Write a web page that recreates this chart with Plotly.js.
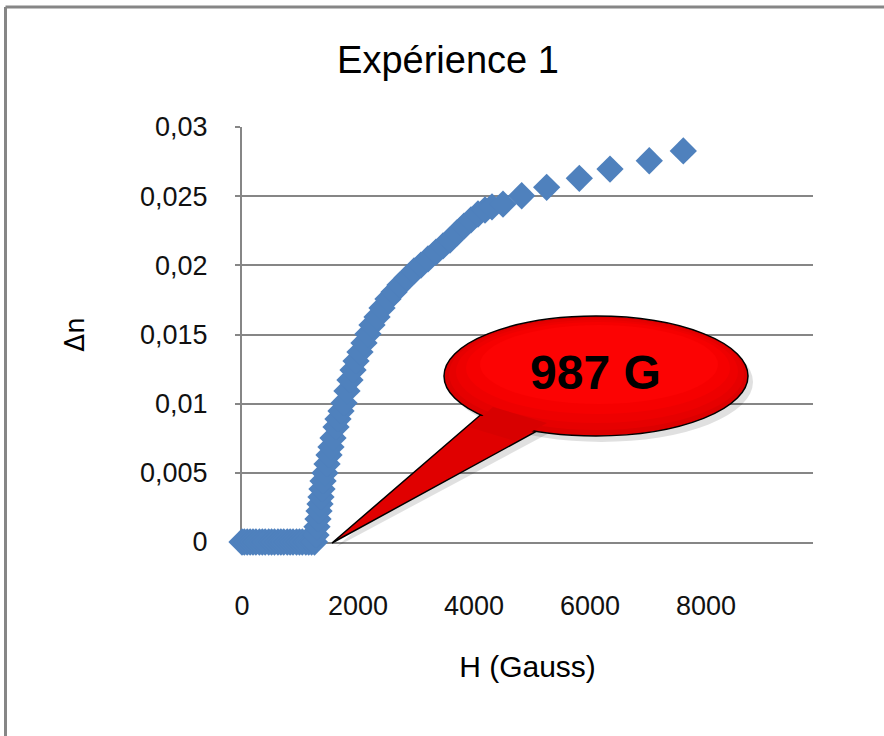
<!DOCTYPE html>
<html><head><meta charset="utf-8">
<script src="https://cdn.plot.ly/plotly-3.0.1.min.js"></script>
<style>html,body{margin:0;padding:0;background:#fff;} #chart{width:884px;height:736px;}</style>
</head><body><div id="chart"></div>
<script>
// Champ magnétique H (Gauss) and birefringence Δn
const fieldH = [0, 40, 90, 140, 190, 240, 300, 350, 400, 460, 510, 560, 620, 670, 720, 780, 830, 880, 940, 990, 1040, 1100, 1150, 1200, 1250,
  1276, 1293, 1310, 1328, 1345, 1362, 1379, 1397, 1431, 1466, 1500, 1534, 1569, 1621, 1655, 1707, 1759, 1810, 1862, 1914, 1966,
  2034, 2103, 2172, 2241, 2328, 2414, 2517, 2621, 2724, 2845, 2966, 3086, 3207, 3345, 3466, 3586, 3707, 3828, 3948, 4069, 4190, 4310,
  4500, 4822, 5253, 5816, 6345, 7022, 7609];
const deltaN = [0, 0, 0, 0, 0, 0, 0, 0, 0, 0, 0, 0, 0, 0, 0, 0, 0, 0, 0, 0, 0, 0, 0, 0, 0,
  0.0005, 0.0011, 0.00166, 0.00224, 0.00275, 0.00325, 0.00383, 0.00441, 0.00499, 0.00564, 0.00629, 0.00687, 0.00752, 0.00831, 0.00889, 0.00947, 0.01005, 0.01092, 0.01171, 0.01243, 0.01308,
  0.01373, 0.01439, 0.01504, 0.01569, 0.01627, 0.01692, 0.01757, 0.01807, 0.01858, 0.01908, 0.01959, 0.02002, 0.02046, 0.02096, 0.0214, 0.02183, 0.02234, 0.02284, 0.02328, 0.02371, 0.024, 0.02422,
  0.02443, 0.02503, 0.02564, 0.02629, 0.02696, 0.02756, 0.02827];
const chartTitle = 'Expérience 1';
const xTitle = 'H (Gauss)';
const yTitle = 'Δn';
const calloutText = '987 G';

// pixel -> paper helpers for decorations
const M = {l: 242, r: 71, t: 127, b: 194};
const W = 884, Hh = 736;
const pw = W - M.l - M.r, ph = Hh - M.t - M.b;
const px = x => (x - M.l) / pw;
const py = y => (Hh - M.b - y) / ph;
function poly(pts) {
  return 'M' + pts.map(p => px(p[0]).toFixed(5) + ',' + py(p[1]).toFixed(5)).join(' L') + ' Z';
}
function ell(x0, y0, x1, y1, fill, line) {
  return {type: 'circle', xref: 'paper', yref: 'paper', x0: px(x0), x1: px(x1), y0: py(y1), y1: py(y0),
    fillcolor: fill, line: line || {width: 0}, layer: 'above'};
}
const gray = '#868686';
const tip = [332, 543], up = [492, 405], lo = [548, 425];
const shapes = [
  // outer frame
  {type: 'line', xref: 'paper', yref: 'paper', x0: px(5.5), x1: px(900), y0: py(7), y1: py(7), line: {color: gray, width: 3}},
  {type: 'line', xref: 'paper', yref: 'paper', x0: px(5.5), x1: px(5.5), y0: py(7), y1: py(760), line: {color: gray, width: 3}},
  // shadow
  ell(450, 322, 753, 442, 'rgba(0,0,0,0.12)'),
  {type: 'path', xref: 'paper', yref: 'paper', path: poly([[tip[0] + 4, tip[1] + 4], [up[0] + 5, up[1] + 6], [lo[0] + 5, lo[1] + 6]]), fillcolor: 'rgba(0,0,0,0.12)', line: {width: 0}, layer: 'above'},
  // tail
  {type: 'path', xref: 'paper', yref: 'paper', path: poly([tip, up, lo]), fillcolor: '#E00000', line: {color: '#000', width: 1.5}, layer: 'above'},
  // bubble
  ell(444, 316, 748, 436, '#DC0000', {color: '#000', width: 1.5}),
  ell(449, 318, 744, 430, '#E60000'),
  ell(456, 320, 738, 423, '#EE0000'),
  ell(466, 322, 730, 414, '#F60000'),
  ell(480, 325, 718, 404, '#FC0303'),
  // join tail and bubble
  {type: 'path', xref: 'paper', yref: 'paper', path: poly([[469.3, 427.2], [493, 407], [547, 423], [514.6, 440.9]]), fillcolor: '#D80000', line: {width: 0}, layer: 'above'}
];

const trace = {
  x: fieldH, y: deltaN, type: 'scatter', mode: 'markers', cliponaxis: false,
  marker: {symbol: 'diamond', size: 21, color: '#4F81BD', line: {width: 0}},
  hoverinfo: 'x+y', showlegend: false
};

const tickFont = {family: 'Liberation Sans, Arial, sans-serif', size: 27, color: '#111'};
const layout = {
  width: W, height: Hh,
  margin: M,
  paper_bgcolor: '#fff', plot_bgcolor: '#fff',
  separators: ', ',
  showlegend: false,
  title: {text: chartTitle, font: {family: 'Liberation Sans, Arial, sans-serif', size: 38, color: '#000'},
    x: 448 / W, xanchor: 'center', xref: 'container', y: 1 - 60 / Hh, yanchor: 'middle', yref: 'container'},
  xaxis: {range: [0, 9845], tick0: 0, dtick: 2000, tickformat: 'd', showgrid: false, zeroline: false,
    showline: true, linecolor: gray, linewidth: 2, ticks: '', tickfont: tickFont, ticklabelstandoff: 39,
    layer: 'below traces',
    title: {text: xTitle, font: {family: 'Liberation Sans, Arial, sans-serif', size: 30, color: '#000'}, standoff: 36}},
  yaxis: {range: [0, 0.03], tick0: 0, dtick: 0.005, showgrid: true, gridcolor: gray, gridwidth: 2, zeroline: false,
    showline: true, linecolor: gray, linewidth: 2, ticks: 'outside', ticklen: 5, tickwidth: 2, tickcolor: gray,
    tickfont: tickFont, ticklabelstandoff: 22, layer: 'below traces',
    title: {text: yTitle, font: {family: 'DejaVu Sans, sans-serif', size: 26, color: '#000'}, standoff: 48}},
  shapes: shapes,
  annotations: [{xref: 'paper', yref: 'paper', x: px(595), y: py(372), text: '<b>' + calloutText + '</b>', showarrow: false,
    font: {family: 'Liberation Sans, Arial, sans-serif', size: 48, color: '#000'}, xanchor: 'center', yanchor: 'middle'}]
};
Plotly.newPlot('chart', [trace], layout, {displayModeBar: false, staticPlot: true});
</script>
</body></html>
